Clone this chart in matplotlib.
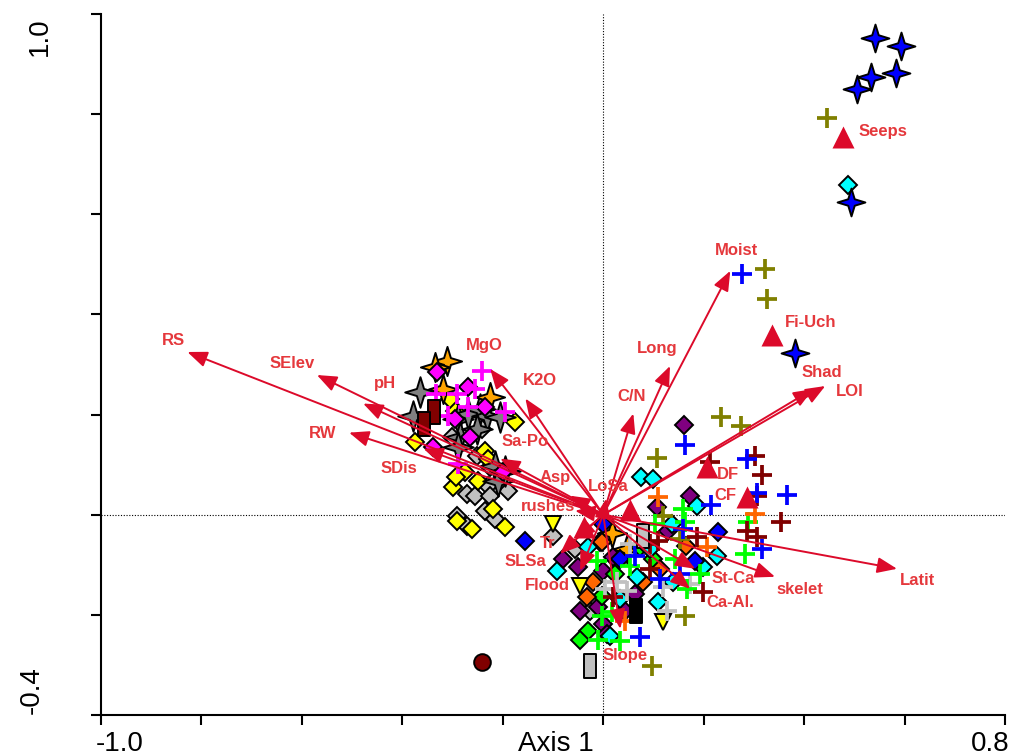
import matplotlib
matplotlib.use('Agg')
import matplotlib.pyplot as plt
from matplotlib.path import Path
import numpy as np

plt.rcParams['font.family'] = ['Liberation Sans', 'DejaVu Sans']

# environmental variables (arrow tips)
env_names = ['RS', 'SElev', 'pH', 'RW', 'SDis', 'MgO', 'K2O', 'Sa-Po', 'Asp', 'rushes',
             'LoSa', 'Tr', 'SLSa', 'Flood', 'Slope', 'St-Ca', 'Ca-Al.', 'skelet', 'Latit',
             'Moist', 'Long', 'C/N', 'Shad', 'LOI']
env_x = [-0.828, -0.570, -0.478, -0.506, -0.358, -0.225, -0.155, -0.205, -0.066, -0.056,
         0.006, -0.056, -0.086, -0.046, 0.034, 0.183, 0.173, 0.342, 0.585,
         0.253, 0.133, 0.060, 0.418, 0.442]
env_y = [0.325, 0.279, 0.222, 0.164, 0.132, 0.291, 0.232, 0.112, 0.038, 0.008,
         0.032, -0.048, -0.078, -0.112, -0.228, -0.108, -0.148, -0.124, -0.108,
         0.487, 0.297, 0.202, 0.251, 0.257]

# nominal variables (centroids)
nom_names = ['Seeps', 'Fi-Uch', 'DF', 'CF', '', '']
nom_x = [0.478, 0.337, 0.207, 0.287, 0.054, -0.038]
nom_y = [0.754, 0.359, 0.096, 0.036, 0.010, -0.024]

# samples by group
blue_star_x = [0.542, 0.592, 0.506, 0.534, 0.582, 0.494, 0.382]
blue_star_y = [0.952, 0.936, 0.850, 0.874, 0.882, 0.625, 0.323]

cyan_x = [0.488, 0.076, 0.100, 0.187, 0.137, -0.030, -0.092, 0.227, 0.199, 0.139, 0.110, 0.014, 0.068, 0.094, 0.034]
cyan_y = [0.659, 0.076, 0.072, 0.018, -0.018, -0.064, -0.112, -0.082, -0.104, -0.134, -0.174, -0.242, -0.124, -0.068, -0.168]

purple_x = [0.161, 0.173, 0.108, 0.129, -0.080, -0.050, 0.020, 0.000, -0.046, -0.010, 0.044, 0.064, 0.000, 0.008]
purple_y = [0.180, 0.038, 0.016, -0.032, -0.088, -0.104, -0.084, -0.112, -0.192, -0.184, -0.192, -0.158, -0.218, -0.238]

green_d_x = [-0.002, -0.030, -0.046, 0.100, 0.074, 0.024]
green_d_y = [-0.162, -0.232, -0.251, -0.088, -0.064, -0.118]

orange_d_x = [-0.002, -0.020, -0.032, 0.080, 0.114, 0.165]
orange_d_y = [-0.054, -0.134, -0.164, -0.134, -0.108, -0.062]

blue_d_x = [0.000, 0.229, 0.183, -0.155, 0.034]
blue_d_y = [-0.018, -0.034, -0.092, -0.052, -0.088]

ytri_x = [-0.100, -0.046, 0.120]
ytri_y = [-0.018, -0.142, -0.214]

gray_p_x = [0.054, 0.028, 0.048, 0.120, 0.173, 0.127, 0.004]
gray_p_y = [-0.058, -0.134, -0.152, -0.144, -0.138, -0.192, -0.148]

maroon_p_x = [0.213, 0.303, 0.317, 0.307, 0.353, 0.287, 0.307, 0.187, 0.110, 0.199, 0.094, 0.020, 0.094]
maroon_p_y = [0.106, 0.118, 0.080, 0.038, -0.014, -0.032, -0.044, -0.044, -0.052, -0.154, -0.108, -0.164, -0.058]

blue_p_x = [0.277, 0.163, 0.287, 0.365, 0.215, 0.307, 0.317, 0.074, 0.159, 0.153, 0.064, 0.114]
blue_p_y = [0.481, 0.140, 0.112, 0.040, 0.020, 0.044, -0.068, -0.244, -0.028, -0.118, -0.082, -0.128]

olive_p_x = [0.446, 0.323, 0.327, 0.235, 0.275, 0.108, 0.120, 0.163, 0.098, 0.153]
olive_p_y = [0.792, 0.491, 0.431, 0.196, 0.178, 0.114, -0.002, -0.202, -0.303, -0.048]

green_p_x = [0.159, 0.163, 0.104, 0.289, 0.167, 0.143, 0.054, -0.012, -0.002, 0.018, -0.010, 0.034, 0.283, 0.193]
green_p_y = [0.012, -0.014, -0.018, -0.014, -0.148, -0.088, -0.102, -0.092, -0.202, -0.194, -0.251, -0.253, -0.078, -0.118]

orange_p_x = [0.110, 0.303, 0.207, 0.044]
orange_p_y = [0.036, 0.002, -0.064, -0.212]

orange_s_x = [-0.311, -0.335, -0.319, -0.225, 0.018, 0.048]
orange_s_y = [0.307, 0.295, 0.251, 0.236, -0.036, -0.068]

gray_s_x = [-0.365, -0.378, -0.289, -0.269, -0.245, -0.231, -0.205, -0.285, -0.289, -0.215, -0.209, -0.195, -0.251]
gray_s_y = [0.246, 0.198, 0.192, 0.202, 0.212, 0.198, 0.196, 0.156, 0.136, 0.098, 0.068, 0.088, 0.172]

mag_p_x = [-0.241, -0.291, -0.255, -0.309, -0.195, -0.269, -0.289, -0.333]
mag_p_y = [0.287, 0.242, 0.251, 0.198, 0.206, 0.216, 0.102, 0.242]

mag_d_x = [-0.331, -0.269, -0.235, -0.265, -0.339, -0.199, -0.295]
mag_d_y = [0.285, 0.255, 0.216, 0.156, 0.136, 0.086, 0.192]

yel_d_x = [-0.295, -0.175, -0.375, -0.275, -0.249, -0.299, -0.293, -0.219, -0.195, -0.261, -0.291, -0.235, -0.229, -0.305]
yel_d_y = [0.208, 0.186, 0.146, 0.086, 0.068, 0.056, 0.076, 0.012, -0.024, -0.028, -0.012, 0.128, 0.112, 0.232]

lgray_d_x = [-0.241, -0.301, -0.251, -0.225, -0.271, -0.255, -0.229, -0.225, -0.189, -0.235, -0.215, -0.291, -0.271, -0.100, -0.056, -0.026, -0.006]
lgray_d_y = [0.172, 0.156, 0.118, 0.096, 0.042, 0.038, 0.058, 0.038, 0.048, 0.008, -0.008, -0.002, -0.022, -0.042, -0.068, -0.192, -0.054]

maroon_r_x = [-0.337, -0.357]
maroon_r_y = [0.206, 0.182]
gray_r_x = [-0.026, 0.080]
gray_r_y = [-0.303, -0.042]
black_r_x = [0.066]
black_r_y = [-0.192]
maroon_c_x = [-0.241]
maroon_c_y = [-0.295]

# label offsets in pixels (dx, dy)
env_off = {'RS': (-14, 11), 'SElev': (-25, 12), 'pH': (22, 20), 'RW': (-26, -1),
           'SDis': (-25, -20), 'MgO': (-6, 24), 'K2O': (15, 18), 'Sa-Po': (25, 17),
           'Asp': (-15, 18), 'rushes': (-27, 4), 'LoSa': (2, 12), 'Tr': (-27, -5),
           'SLSa': (-35, -8), 'Flood': (-33, -15), 'Slope': (5, -27), 'St-Ca': (38, -10),
           'Ca-Al.': (40, -14), 'skelet': (25, -13), 'Latit': (20, -12), 'Moist': (6, 20),
           'Long': (-13, 18), 'C/N': (-2, 17), 'Shad': (9, 17), 'LOI': (25, -5)}
nom_off = {'Seeps': (40, 6), 'Fi-Uch': (38, 12), 'DF': (21, -8), 'CF': (-22, 1)}

# marker shapes
ang = np.arange(8) * np.pi / 4
rad = np.where(np.arange(8) % 2 == 0, 1.0, 0.33)
star4 = Path(np.column_stack([rad * np.cos(ang), rad * np.sin(ang)]).tolist() + [[1.0, 0.0]],
             closed=True)
rect = Path([(-0.24, -0.5), (0.24, -0.5), (0.24, 0.5), (-0.24, 0.5), (-0.24, -0.5)], closed=True)

fig = plt.figure(figsize=(10.09, 7.55), dpi=100)
ax = fig.add_axes([101 / 1009, 40 / 755, 904 / 1009, 701 / 755])
ax.set_xlim(-1.0, 0.8)
ax.set_ylim(-0.4, 1.0)

ax.axhline(0, color='black', lw=0.8, ls=(0, (1, 1.5)), zorder=1)
ax.axvline(0, color='black', lw=0.8, ls=(0, (1, 1.5)), zorder=1)

def pts(x, y, marker, ms, fc, ec='black', mew=1.4):
    ax.plot(x, y, ls='none', marker=marker, ms=ms, mfc=fc, mec=ec, mew=mew, zorder=3)

def plus(x, y, color):
    ax.plot(x, y, ls='none', marker='+', ms=14.5, mec=color, mew=2.7, zorder=3)

D = 9.5

# left cluster
pts(lgray_d_x, lgray_d_y, 'D', D, '#c0c0c0')
pts(yel_d_x, yel_d_y, 'D', D, '#ffff00')
pts(gray_s_x, gray_s_y, star4, 22, '#808080')
pts(orange_s_x, orange_s_y, star4, 21, '#ffa500')
pts(mag_d_x, mag_d_y, 'D', D, '#ff00ff')
plus(mag_p_x, mag_p_y, '#ff00ff')
pts(maroon_r_x, maroon_r_y, rect, 17, '#800000')

# right cluster
pts(purple_x, purple_y, 'D', D, '#800080')
pts(green_d_x, green_d_y, 'D', D, '#00ff00')
pts(orange_d_x, orange_d_y, 'D', D, '#ff6600')
pts(cyan_x, cyan_y, 'D', D, '#00ffff')
pts(blue_d_x, blue_d_y, 'D', D, '#0000ff')
pts(ytri_x, ytri_y, 'v', 11, '#ffff00')
plus(gray_p_x, gray_p_y, '#c0c0c0')
plus(olive_p_x, olive_p_y, '#808000')
plus(green_p_x, green_p_y, '#00ff00')
plus(orange_p_x, orange_p_y, '#ff6600')
plus(maroon_p_x, maroon_p_y, '#800000')
plus(blue_p_x, blue_p_y, '#0000ff')
pts(gray_r_x, gray_r_y, rect, 17, '#c0c0c0')
pts(black_r_x, black_r_y, rect, 17, '#000000')
pts(maroon_c_x, maroon_c_y, 'o', 12, '#800000')
pts(blue_star_x, blue_star_y, star4, 20, '#0000ff')

arrow_col = '#dc0a2a'
text_col = '#e5383c'
for name, x, y in zip(env_names, env_x, env_y):
    ax.annotate('', xy=(x, y), xytext=(0, 0), zorder=4,
                arrowprops=dict(arrowstyle='-|>,head_length=0.6,head_width=0.24',
                                mutation_scale=20, color=arrow_col, lw=1.4,
                                shrinkA=0, shrinkB=0))
    ax.annotate(name, xy=(x, y), xytext=env_off[name], textcoords='offset pixels',
                ha='center', va='center', color=text_col, fontsize=12,
                fontweight='bold', zorder=6)

ax.plot(nom_x, nom_y, ls='none', marker='^', ms=16, mfc=arrow_col, mec='none', zorder=5)
for name, x, y in zip(nom_names, nom_x, nom_y):
    if name:
        ax.annotate(name, xy=(x, y), xytext=nom_off[name], textcoords='offset pixels',
                    ha='center', va='center', color=text_col, fontsize=12,
                    fontweight='bold', zorder=6)

for s in ['top', 'right']:
    ax.spines[s].set_visible(False)
ax.spines['left'].set_linewidth(1.5)
ax.spines['bottom'].set_linewidth(1.5)
ax.set_xticks(np.arange(-1.0, 0.81, 0.2))
ax.set_yticks(np.arange(-0.4, 1.01, 0.2))
ax.tick_params(direction='out', length=7, width=1.5, labelbottom=False, labelleft=False)

fig.text(40 / 1009, 1 - 37 / 755, '1.0', rotation=90, ha='center', va='center', fontsize=20)
fig.text(32 / 1009, 1 - 690 / 755, '-0.4', rotation=90, ha='center', va='center', fontsize=20)
fig.text(120 / 1009, 4 / 755, '-1.0', ha='center', va='baseline', fontsize=20)
fig.text(990 / 1009, 4 / 755, '0.8', ha='center', va='baseline', fontsize=20)
fig.text(556 / 1009, 4 / 755, 'Axis 1', ha='center', va='baseline', fontsize=20)

fig.savefig('out.png', dpi=100)
